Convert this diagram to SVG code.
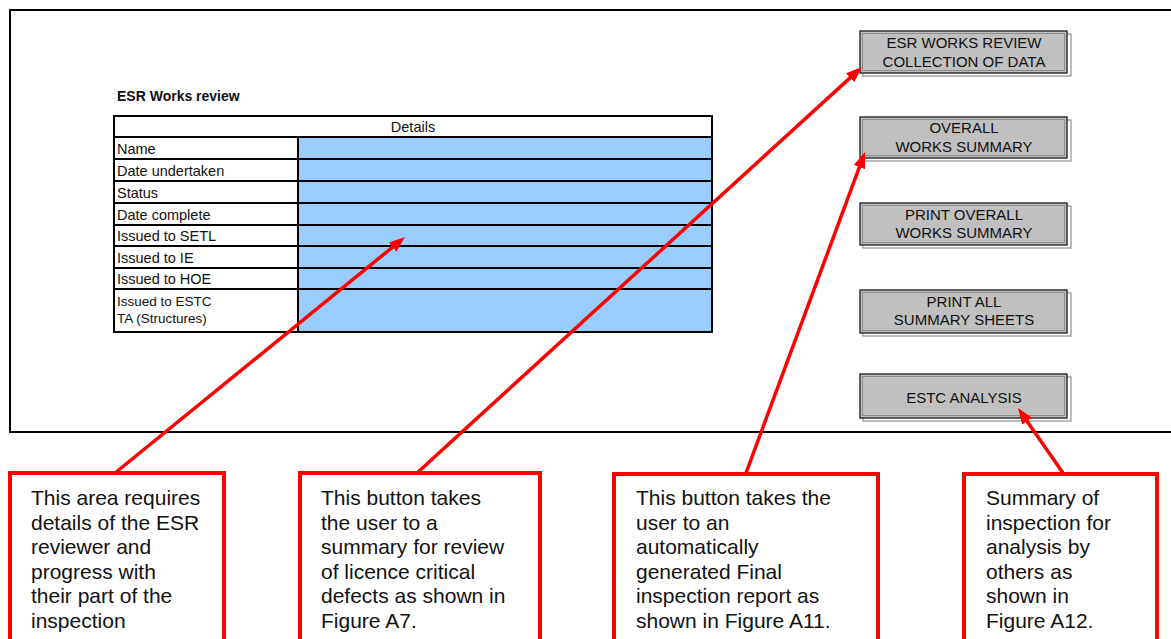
<svg xmlns="http://www.w3.org/2000/svg" width="1171" height="639" viewBox="0 0 1171 639">
<defs>
<style>
.t{font-family:"Liberation Sans",Arial,sans-serif;fill:#111}
.tbl{font-size:14.5px}
.btn{font-size:15px;text-anchor:middle}
.call{font-size:21px}
.cell{fill:#99CCFF;stroke:#000;stroke-width:2}
.lab{fill:#fff;stroke:#000;stroke-width:2}
.bface{fill:#C0C0C0;stroke:#1a1a1a;stroke-width:1.3}
.bshadow{fill:none;stroke:#9a9a9a;stroke-width:1.3}
.binner{fill:none;stroke:#8c8c8c;stroke-width:1}
.box{fill:#fff;stroke:#FF0000;stroke-width:4}
.conn{stroke:#FF0000;stroke-width:3.5;fill:none}
</style>
<marker id="ah" markerUnits="userSpaceOnUse" markerWidth="16" markerHeight="12" refX="4" refY="6" orient="auto">
<path d="M0,0 L16,6 L0,12 z" fill="#FF0000"/>
</marker>
</defs>
<rect x="0" y="0" width="1171" height="639" fill="#fff"/>
<rect id="frame" x="10" y="10" width="1180" height="422" fill="none" stroke="#000" stroke-width="2"/>

<g id="table">
<text class="t" x="117" y="101" style="font-size:14px;font-weight:bold">ESR Works review</text>
<rect class="lab" x="114" y="116" width="598" height="21"/>
<text class="t tbl" x="413" y="132" text-anchor="middle">Details</text>
<rect class="lab" x="114" y="137" width="184" height="22"/><rect class="cell" x="298" y="137" width="414" height="22"/>
<rect class="lab" x="114" y="159" width="184" height="22"/><rect class="cell" x="298" y="159" width="414" height="22"/>
<rect class="lab" x="114" y="181" width="184" height="22"/><rect class="cell" x="298" y="181" width="414" height="22"/>
<rect class="lab" x="114" y="203" width="184" height="22"/><rect class="cell" x="298" y="203" width="414" height="22"/>
<rect class="lab" x="114" y="225" width="184" height="21"/><rect class="cell" x="298" y="225" width="414" height="21"/>
<rect class="lab" x="114" y="246" width="184" height="22"/><rect class="cell" x="298" y="246" width="414" height="22"/>
<rect class="lab" x="114" y="268" width="184" height="21"/><rect class="cell" x="298" y="268" width="414" height="21"/>
<rect class="lab" x="114" y="289" width="184" height="43"/><rect class="cell" x="298" y="289" width="414" height="43"/>
<text class="t tbl" x="117" y="154">Name</text>
<text class="t tbl" x="117" y="176">Date undertaken</text>
<text class="t tbl" x="117" y="198">Status</text>
<text class="t tbl" x="117" y="220">Date complete</text>
<text class="t tbl" x="117" y="241">Issued to SETL</text>
<text class="t tbl" x="117" y="263">Issued to IE</text>
<text class="t tbl" x="117" y="284">Issued to HOE</text>
<text class="t tbl" x="117" y="306" style="font-size:13.5px">Issued to ESTC</text>
<text class="t tbl" x="117" y="323" style="font-size:13.5px">TA (Structures)</text>
</g>

<g id="btn-collection">
<rect class="bshadow" x="863" y="34" width="208" height="42"/>
<rect class="bface" x="860" y="31" width="207" height="42"/>
<rect class="binner" x="862.5" y="33.5" width="202" height="37"/>
<text class="t btn" x="964" y="48">ESR WORKS REVIEW</text>
<text class="t btn" x="964" y="67">COLLECTION OF DATA</text>
</g>
<g id="btn-overall">
<rect class="bshadow" x="863" y="120" width="208" height="41"/>
<rect class="bface" x="860" y="117" width="207" height="41"/>
<rect class="binner" x="862.5" y="119.5" width="202" height="36"/>
<text class="t btn" x="964" y="133">OVERALL</text>
<text class="t btn" x="964" y="152">WORKS SUMMARY</text>
</g>
<g id="btn-print-overall">
<rect class="bshadow" x="863" y="206" width="208" height="42"/>
<rect class="bface" x="860" y="203" width="207" height="42"/>
<rect class="binner" x="862.5" y="205.5" width="202" height="37"/>
<text class="t btn" x="964" y="220">PRINT OVERALL</text>
<text class="t btn" x="964" y="238">WORKS SUMMARY</text>
</g>
<g id="btn-print-all">
<rect class="bshadow" x="863" y="293" width="208" height="43"/>
<rect class="bface" x="860" y="290" width="207" height="43"/>
<rect class="binner" x="862.5" y="292.5" width="202" height="38"/>
<text class="t btn" x="964" y="307">PRINT ALL</text>
<text class="t btn" x="964" y="325">SUMMARY SHEETS</text>
</g>
<g id="btn-estc">
<rect class="bshadow" x="863" y="377" width="208" height="44"/>
<rect class="bface" x="860" y="374" width="207" height="44"/>
<rect class="binner" x="862.5" y="376.5" width="202" height="39"/>
<text class="t btn" x="964" y="403">ESTC ANALYSIS</text>
</g>

<g id="callout-1">
<rect class="box" x="10" y="473" width="214" height="180"/>
<text class="t call" x="31" y="505">This area requires</text>
<text class="t call" x="31" y="529.5">details of the ESR</text>
<text class="t call" x="31" y="554">reviewer and</text>
<text class="t call" x="31" y="578.5">progress with</text>
<text class="t call" x="31" y="603">their part of the</text>
<text class="t call" x="31" y="627.5">inspection</text>
</g>
<g id="callout-2">
<rect class="box" x="300" y="473" width="240" height="180"/>
<text class="t call" x="321" y="505">This button takes</text>
<text class="t call" x="321" y="529.5">the user to a</text>
<text class="t call" x="321" y="554">summary for review</text>
<text class="t call" x="321" y="578.5">of licence critical</text>
<text class="t call" x="321" y="603">defects as shown in</text>
<text class="t call" x="321" y="627.5">Figure A7.</text>
</g>
<g id="callout-3">
<rect class="box" x="614" y="474" width="264" height="180"/>
<text class="t call" x="636" y="505">This button takes the</text>
<text class="t call" x="636" y="529.5">user to an</text>
<text class="t call" x="636" y="554">automatically</text>
<text class="t call" x="636" y="578.5">generated Final</text>
<text class="t call" x="636" y="603">inspection report as</text>
<text class="t call" x="636" y="627.5">shown in Figure A11.</text>
</g>
<g id="callout-4">
<rect class="box" x="964" y="474" width="193" height="180"/>
<text class="t call" x="986" y="505">Summary of</text>
<text class="t call" x="986" y="529.5">inspection for</text>
<text class="t call" x="986" y="554">analysis by</text>
<text class="t call" x="986" y="578.5">others as</text>
<text class="t call" x="986" y="603">shown in</text>
<text class="t call" x="986" y="627.5">Figure A12.</text>
</g>

<g id="connectors">
<line class="conn" x1="115" y1="473" x2="395.7" y2="244.6" marker-end="url(#ah)"/>
<line class="conn" x1="417" y1="473" x2="853.1" y2="75.1" marker-end="url(#ah)"/>
<line class="conn" x1="746" y1="473" x2="860.8" y2="163.3" marker-end="url(#ah)"/>
<line class="conn" x1="1063" y1="473" x2="1024.8" y2="417.9" marker-end="url(#ah)"/>
</g>
</svg>
